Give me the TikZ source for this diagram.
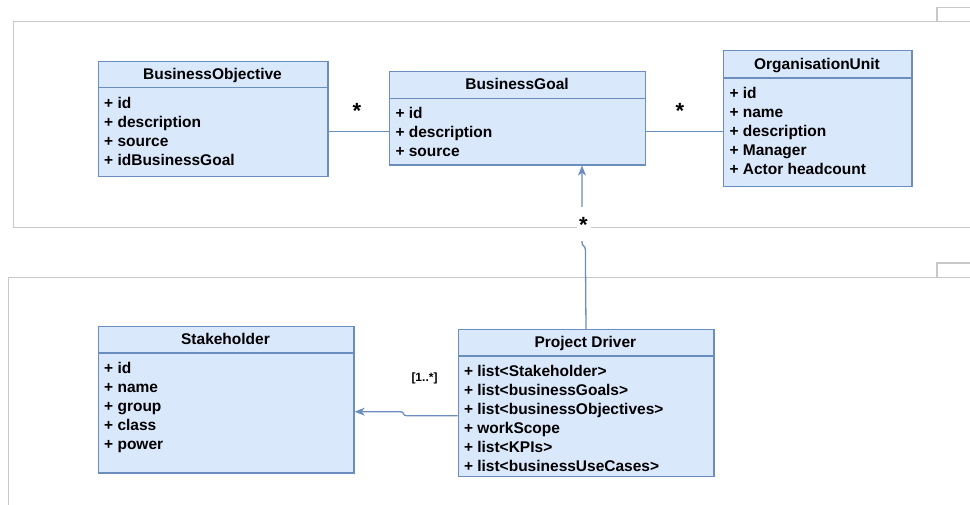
\documentclass[tikz,border=0pt]{standalone}
\usepackage{fontspec}
\setmainfont{Liberation Sans}
\usetikzlibrary{arrows.meta}
\definecolor{boxfill}{HTML}{DAE8FC}
\definecolor{boxline}{HTML}{6C8EBF}
\definecolor{framegray}{HTML}{C8C8C8}
\begin{document}
\begin{tikzpicture}[x=1pt,y=-1pt,
  classbox/.style={draw=boxline, fill=boxfill, line width=1.3pt, rectangle, inner sep=0pt, anchor=north west},
  sepline/.style={draw=boxline, line width=1.3pt},
  hdr/.style={font=\fontsize{15.5}{18}\selectfont\bfseries, anchor=base, inner sep=0pt},
  item/.style={font=\fontsize{15.5}{18}\selectfont\bfseries, anchor=base west, inner sep=0pt},
  frameline/.style={draw=framegray, line width=1.3pt},
  conn/.style={draw=boxline, line width=1.3pt},
  tipend/.style={-{Stealth[length=10pt,width=8pt,inset=2.8pt]}},
  mult/.style={font=\fontsize{22}{24}\selectfont\bfseries, inner sep=0pt, anchor=base},
  lbl/.style={font=\fontsize{12}{14}\selectfont\bfseries, inner sep=0pt, anchor=base}]
\useasboundingbox (0,0) rectangle (970,505);
% frames
\draw[frameline] (970,21.7) -- (13.6,21.7) -- (13.6,227.7) -- (970,227.7);
\draw[frameline] (937,21.7) -- (937,7.3) -- (970,7.3);
\draw[frameline] (970,277.7) -- (8.7,277.7) -- (8.7,506);
\draw[frameline] (937,277.7) -- (937,263) -- (970,263);
% boxes
\node[classbox, minimum width=229.6pt, minimum height=115.3pt] (bo) at (97.7,60.7) {};
\node[classbox, minimum width=256pt, minimum height=93.6pt] (bg) at (389,70.7) {};
\node[classbox, minimum width=188.3pt, minimum height=136pt] (ou) at (723,50) {};
\node[classbox, minimum width=255.6pt, minimum height=146.6pt] (sh) at (97.7,325.7) {};
\node[classbox, minimum width=255.7pt, minimum height=146.7pt] (pd) at (457.5,329) {};
% separators
\draw[sepline] (bo.west |- 0,87.7) -- (bo.east |- 0,87.7);
\draw[sepline] (bg.west |- 0,98.3) -- (bg.east |- 0,98.3);
\draw[sepline] (ou.west |- 0,78) -- (ou.east |- 0,78);
\draw[sepline] (sh.west |- 0,353) -- (sh.east |- 0,353);
\draw[sepline] (pd.west |- 0,356) -- (pd.east |- 0,356);
% headers
\node[hdr] (boh) at (212.5,79.7) {BusinessObjective};
\node[hdr] (bgh) at (517,90) {BusinessGoal};
\node[hdr] (ouh) at (817,69.5) {OrganisationUnit};
\node[hdr] (shh) at (225.5,344.9) {Stakeholder};
\node[hdr] (pdh) at (585.4,347.5) {Project Driver};
% items
\foreach \t [count=\i from 0] in {+ id, + description, + source, + idBusinessGoal}
  \node[item] (bo\i) at (104,108.3+19*\i) {\t};
\foreach \t [count=\i from 0] in {+ id, + description, + source}
  \node[item] (bg\i) at (395.3,118.9+19*\i) {\t};
\foreach \t [count=\i from 0] in {+ id, + name, + description, + Manager, + Actor headcount}
  \node[item] (ou\i) at (729.3,98.6+19*\i) {\t};
\foreach \t [count=\i from 0] in {+ id, + name, + group, + class, + power}
  \node[item] (sh\i) at (104,373.6+19*\i) {\t};
\foreach \t [count=\i from 0] in {+ list<Stakeholder>, + list<businessGoals>, + list<businessObjectives>, + workScope, + list<KPIs>, + list<businessUseCases>}
  \node[item] (pd\i) at (463.8,376.3+19*\i) {\t};
% connectors
\draw[conn] (bo.east |- 0,131.7) -- (bg.west |- 0,131.7);
\draw[conn] (bg.east |- 0,131.7) -- (ou.west |- 0,131.7);
\draw[conn, tipend] (pd.north) -- (585.4,250) .. controls (585.4,245) and (582,247) .. (582,242) -- (582,0 |- bg.south);
\draw[conn, tipend] (pd.west |- 0,415.7) -- (406.5,415.7) .. controls (402.5,415.7) and (404.5,411.7) .. (400.5,411.7) -- (sh.east |- 0,411.7);
% multiplicities
\node[mult] (m1) at (357,118.5) {*};
\node[mult] (m2) at (680,118.5) {*};
\fill[white] (576.5,207) rectangle (590.5,241.5);
\node[mult] (m3) at (583.3,232.5) {*};
\node[lbl] (m4) at (424.5,381.5) {[1..*]};
\end{tikzpicture}
\end{document}
